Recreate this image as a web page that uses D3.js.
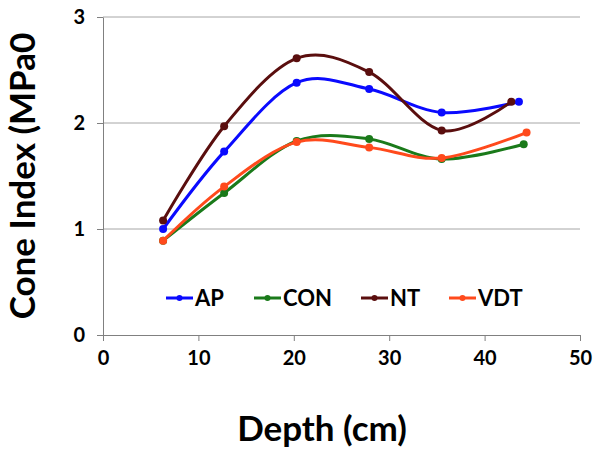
<!DOCTYPE html>
<html lang="en">
<head>
    <meta charset="UTF-8">
    <title>Cone Index vs Depth</title>
    <script src="https://d3js.org/d3.v7.min.js"></script>
    <style>
        body { margin: 0; background: #fff; }
        text { font-family: Lato, "Open Sans", sans-serif; font-weight: bold; fill: #000; }
        .grid line { stroke: #a6a6a6; stroke-width: 1px; }
        .axis path, .axis line { stroke: #808080; }
    </style>
</head>
<body>
    <div id="chart"></div>

    <script>
        // values
        const seriesNames = ['AP', 'CON', 'NT', 'VDT'];
        const seriesColors = ['#0a0aff', '#1a7a1a', '#5a0e0e', '#ff4a1c'];

        const apDepth = [6.3, 12.7, 20.3, 27.9, 35.5, 43.6];
        const apValues = [1.00, 1.73, 2.38, 2.32, 2.10, 2.20];

        const conDepth = [6.3, 12.7, 20.3, 27.9, 35.5, 44.1];
        const conValues = [0.89, 1.34, 1.83, 1.85, 1.66, 1.80];

        const ntDepth = [6.3, 12.7, 20.3, 27.9, 35.5, 42.8];
        const ntValues = [1.08, 1.97, 2.61, 2.48, 1.93, 2.20];

        const vdtDepth = [6.3, 12.7, 20.3, 27.9, 35.5, 44.4];
        const vdtValues = [0.89, 1.40, 1.82, 1.77, 1.67, 1.91];

        const xTicks = [0, 10, 20, 30, 40, 50];
        const yTicks = [0, 1, 2, 3];

        const series = [
            { name: seriesNames[0], color: seriesColors[0], x: apDepth, y: apValues },
            { name: seriesNames[1], color: seriesColors[1], x: conDepth, y: conValues },
            { name: seriesNames[2], color: seriesColors[2], x: ntDepth, y: ntValues },
            { name: seriesNames[3], color: seriesColors[3], x: vdtDepth, y: vdtValues }
        ];

        const width = 594;
        const height = 449;
        const margin = { top: 17, right: 14, bottom: 114, left: 103 };

        const svg = d3.select('#chart').append('svg')
            .attr('width', width)
            .attr('height', height);

        const x = d3.scaleLinear().domain([0, 50]).range([margin.left, width - margin.right]);
        const y = d3.scaleLinear().domain([0, 3]).range([height - margin.bottom, margin.top]);

        // horizontal gridlines
        svg.append('g')
            .attr('class', 'grid')
            .selectAll('line')
            .data(yTicks.filter(d => d > 0))
            .enter().append('line')
            .attr('x1', x(0))
            .attr('x2', x(50))
            .attr('y1', d => y(d))
            .attr('y2', d => y(d));

        const xAxis = svg.append('g')
            .attr('class', 'axis')
            .attr('transform', `translate(0,${y(0)})`)
            .call(d3.axisBottom(x).tickValues(xTicks).tickSize(6).tickSizeOuter(0));
        xAxis.selectAll('text').attr('font-size', 20).attr('y', 16);

        const yAxis = svg.append('g')
            .attr('class', 'axis')
            .attr('transform', `translate(${x(0)},0)`)
            .call(d3.axisLeft(y).tickValues(yTicks).tickFormat(d3.format('d')).tickSize(6).tickSizeOuter(0));
        yAxis.selectAll('text').attr('font-size', 20).attr('x', -18);

        // axis titles
        svg.append('text')
            .attr('x', 322)
            .attr('y', 441)
            .attr('text-anchor', 'middle')
            .attr('font-size', 35)
            .text('Depth (cm)');

        svg.append('text')
            .attr('transform', `translate(35,${(y(0) + y(3)) / 2}) rotate(-90)`)
            .attr('text-anchor', 'middle')
            .attr('font-size', 35)
            .text('Cone Index (MPa0');

        const line = d3.line()
            .x(d => x(d[0]))
            .y(d => y(d[1]))
            .curve(d3.curveCatmullRom.alpha(0));

        const g = svg.append('g');
        series.forEach(s => {
            const pts = s.x.map((d, i) => [d, s.y[i]]);
            g.append('path')
                .datum(pts)
                .attr('fill', 'none')
                .attr('stroke', s.color)
                .attr('stroke-width', 3)
                .attr('d', line);
            g.selectAll(null)
                .data(pts)
                .enter().append('circle')
                .attr('cx', d => x(d[0]))
                .attr('cy', d => y(d[1]))
                .attr('r', 4)
                .attr('fill', s.color);
        });

        // legend
        const legendX = [166, 254, 361, 449];
        const legend = svg.append('g').attr('transform', 'translate(0,298)');
        series.forEach((s, i) => {
            const item = legend.append('g').attr('transform', `translate(${legendX[i]},0)`);
            item.append('line')
                .attr('x1', 0).attr('x2', 27)
                .attr('stroke', s.color)
                .attr('stroke-width', 3);
            item.append('circle').attr('cx', 13.5).attr('r', 3).attr('fill', s.color);
            item.append('text')
                .attr('x', 29)
                .attr('dy', '0.36em')
                .attr('font-size', 22)
                .text(s.name);
        });
    </script>
</body>
</html>
